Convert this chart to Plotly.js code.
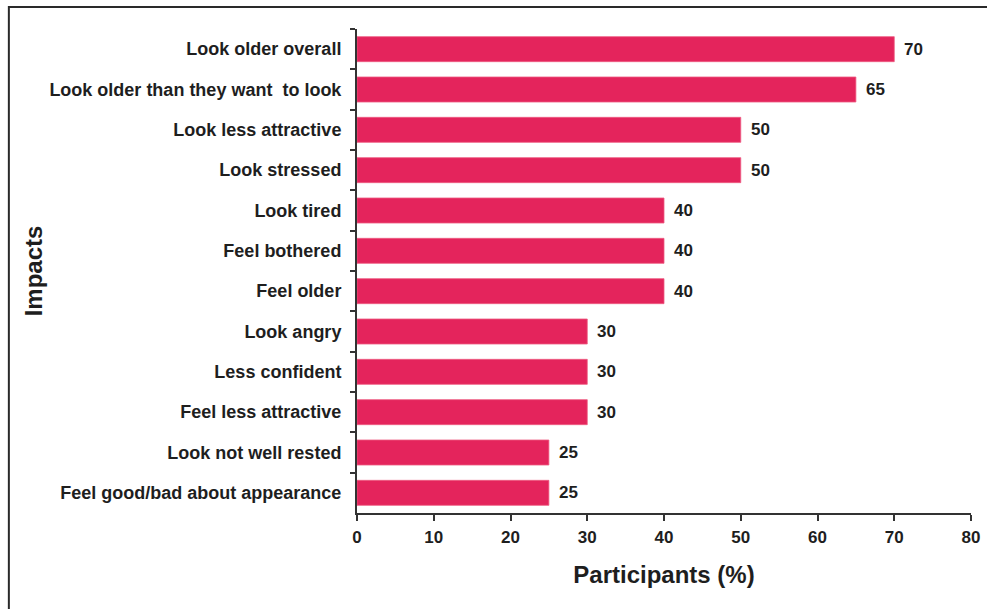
<!DOCTYPE html>
<html>
<head>
<meta charset="utf-8">
<script src="https://cdn.plot.ly/plotly-3.0.1.min.js"></script>
<style>
  html, body { margin: 0; padding: 0; background: #ffffff; }
  #chart { width: 987px; height: 609px; }
</style>
</head>
<body>
<div id="chart"></div>
<script>
// Reported impacts, top to bottom
const impacts = [
  "Look older overall",
  "Look older than they want  to look",
  "Look less attractive",
  "Look stressed",
  "Look tired",
  "Feel bothered",
  "Feel older",
  "Look angry",
  "Less confident",
  "Feel less attractive",
  "Look not well rested",
  "Feel good/bad about appearance"
];
// Share of participants (%)
const participants = [70, 65, 50, 50, 40, 40, 40, 30, 30, 30, 25, 25];
const xTicks = [0, 10, 20, 30, 40, 50, 60, 70, 80];

const FONT = "Liberation Sans, Arial, Helvetica, sans-serif";
const INK = "#1e1e1e";
const BAR = "#e4245c";

const trace = {
  type: "bar",
  orientation: "h",
  x: participants,
  y: impacts,
  marker: { color: BAR, line: { color: "#ee5c82", width: 0.8 } },
  hoverinfo: "x+y"
};

// Value labels just past the end of each bar
const valueLabels = impacts.map((name, i) => ({
  x: participants[i],
  y: name,
  xref: "x",
  yref: "y",
  text: String(participants[i]),
  showarrow: false,
  xanchor: "left",
  yanchor: "middle",
  xshift: 8,
  font: { family: FONT, size: 17, color: INK, weight: "bold" }
}));

const layout = {
  width: 987,
  height: 609,
  margin: { l: 357, r: 16, t: 29, b: 96 },
  paper_bgcolor: "#ffffff",
  plot_bgcolor: "#ffffff",
  showlegend: false,
  bargap: 0.38,
  font: { family: FONT, color: INK },
  xaxis: {
    range: [0, 80],
    tickmode: "array",
    tickvals: xTicks,
    ticktext: xTicks.map(String),
    showgrid: false,
    zeroline: false,
    showline: true,
    linecolor: "#333333",
    linewidth: 2,
    ticks: "outside",
    ticklen: 6,
    tickwidth: 2,
    tickcolor: "#333333",
    ticklabelstandoff: 2,
    tickfont: { family: FONT, size: 17, color: INK, weight: "bold" },
    title: {
      text: "Participants (%)",
      font: { family: FONT, size: 24, color: INK, weight: "bold" },
      standoff: 20
    },
    fixedrange: true
  },
  yaxis: {
    type: "category",
    autorange: "reversed",
    showgrid: false,
    zeroline: false,
    showline: true,
    linecolor: "#333333",
    linewidth: 2,
    ticks: "outside",
    tickson: "boundaries",
    ticklen: 5,
    tickwidth: 2,
    tickcolor: "#333333",
    ticklabelstandoff: 10,
    tickfont: { family: FONT, size: 18, color: INK, weight: "bold" },
    title: {
      text: "Impacts",
      font: { family: FONT, size: 24, color: INK, weight: "bold" },
      standoff: 0
    },
    fixedrange: true
  },
  annotations: valueLabels,
  shapes: [
    // outer frame around the figure
    {
      type: "rect",
      xref: "paper", yref: "paper",
      x0: -0.567, x1: 1.2, y0: -0.4, y1: 1.0455,
      line: { color: "#2a2a2a", width: 2 },
      fillcolor: "rgba(0,0,0,0)",
      layer: "below"
    }
  ]
};

Plotly.newPlot("chart", [trace], layout, { displayModeBar: false, staticPlot: true });
</script>
</body>
</html>
